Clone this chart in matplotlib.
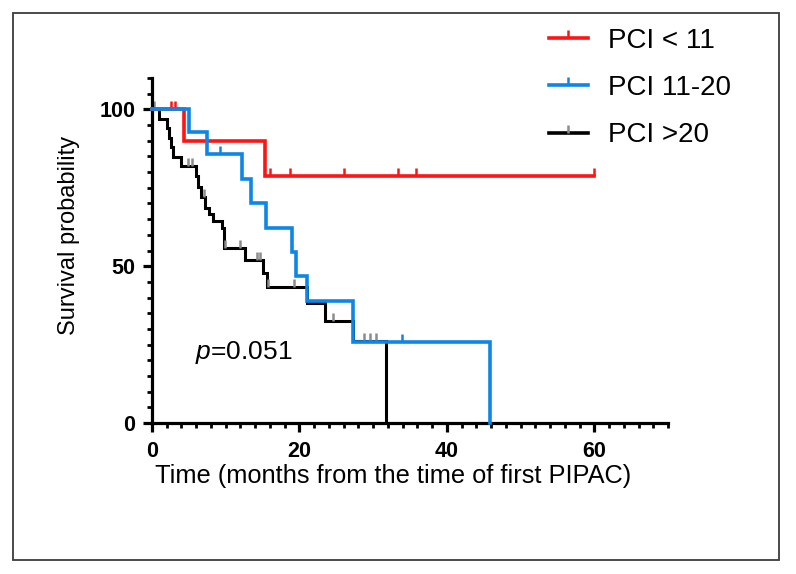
import numpy as np
import matplotlib
matplotlib.use("Agg")
import matplotlib.pyplot as plt
from matplotlib.lines import Line2D
from matplotlib.patches import Rectangle

plt.rcParams['font.family'] = ['Liberation Sans', 'DejaVu Sans']
plt.rcParams['mathtext.fontset'] = 'custom'
plt.rcParams['mathtext.it'] = 'Liberation Sans:italic'
plt.rcParams['mathtext.rm'] = 'Liberation Sans'

# ---- data ----
groups = ["PCI < 11", "PCI 11-20", "PCI >20"]
colors = ["#FF1414", "#0E86E6", "#000000"]
censor_colors = ["#FF1414", "#0E86E6", "#8C8C8C"]

red_times = [4.3, 15.3]
red_surv = [90.0, 78.75]
red_end = 60.0
red_censor = [2.6, 3.1, 16.0, 18.7, 26.0, 33.4, 35.8, 60.0]

blue_times = [5.0, 7.4, 12.2, 13.4, 15.5, 19.0, 19.6, 21.0, 27.3, 45.9]
blue_surv = [92.9, 85.7, 77.9, 70.1, 62.3, 54.5, 46.8, 39.0, 25.9, 0.0]
blue_end = 45.9
blue_censor = [9.2, 33.9]

black_times = [1.0, 2.0, 2.3, 2.6, 2.9, 4.0, 6.0, 6.3, 6.7, 7.2, 7.7, 8.3,
               9.5, 9.7, 12.6, 15.1, 15.6, 21.0, 23.5, 27.3, 31.8]
black_surv = [97.0, 93.9, 90.9, 87.9, 84.8, 81.8, 78.6, 75.4, 72.1, 68.5, 66.5, 64.3,
              62.2, 55.8, 52.1, 47.8, 43.5, 38.3, 32.4, 26.0, 0.0]
black_end = 31.8
black_censor = [0.3, 4.9, 5.4, 7.0, 9.9, 11.9, 14.2, 14.7, 15.8, 19.2, 24.6, 28.8, 29.6, 30.4]

x_major = [0, 20, 40, 60]
y_major = [0, 50, 100]

series = [
    (red_times, red_surv, red_end, red_censor),
    (blue_times, blue_surv, blue_end, blue_censor),
    (black_times, black_surv, black_end, black_censor),
]

W, H = 796, 574
fig = plt.figure(figsize=(W / 100, H / 100), dpi=100)
ax = fig.add_axes([152 / W, 1 - 423 / H, 516 / W, (423 - 78) / H])

# figure frame
fig.patches.append(Rectangle((13 / W, 1 - 560 / H), (779 - 13) / W, (560 - 13) / H,
                             transform=fig.transFigure, fill=False,
                             edgecolor="#3c3c3c", linewidth=1.3))

lws = [2.6, 2.6, 2.2]
zorders = [3, 4, 2]
handles = []
for (t, s, end, cens), col, ccol, lw, zo, name in zip(series, colors, censor_colors, lws, zorders, groups):
    xs = [0.0] + list(t)
    ys = [100.0] + list(s)
    if end > xs[-1]:
        xs.append(end)
        ys.append(ys[-1])
    ax.step(xs, ys, where='post', color=col, lw=lw, zorder=zo, clip_on=False,
            solid_joinstyle='miter')
    xs_a = np.array(xs)
    ys_a = np.array(ys)
    cy = [ys_a[np.searchsorted(xs_a, c, side='right') - 1] for c in cens]
    ax.plot(cens, cy, linestyle='none', marker=2, markersize=5.5, mew=1.8,
            color=ccol, zorder=zo + 0.5, clip_on=False)
    handles.append(Line2D([], [], color=col, lw=2.6, marker=2, markersize=6,
                          mew=1.8, markeredgecolor=ccol))

ax.set_xlim(0, 70)
ax.set_ylim(0, 110)
ax.set_xticks(x_major)
ax.set_xticks(np.arange(0, 71, 2), minor=True)
ax.set_yticks(y_major)
ax.set_yticks(np.arange(0, 111, 5), minor=True)
for sp in ['top', 'right']:
    ax.spines[sp].set_visible(False)
for sp in ['left', 'bottom']:
    ax.spines[sp].set_linewidth(2.3)
ax.tick_params(which='major', length=6.8, width=2.3, labelsize=15.5)
ax.tick_params(axis='x', which='major', pad=6)
ax.tick_params(axis='y', which='major', pad=5)
ax.tick_params(which='minor', length=3.8, width=2.0)
for lab in ax.get_xticklabels() + ax.get_yticklabels():
    lab.set_fontweight('bold')

ax.set_xlabel("Time (months from the time of first PIPAC)", fontsize=18.3)
ax.set_ylabel("Survival probability", fontsize=17)
ax.xaxis.set_label_coords((393 - 152) / 516, -(464 - 423) / 345)
ax.yaxis.set_label_coords(-(152 - 80) / 516, (423 - 235) / 345)

ax.text(5.8, 22.5, r"$\it{p}$=0.051", fontsize=19, va='center', ha='left')

fig.legend(handles, groups, loc='upper left', bbox_to_anchor=(549 / W, 1 - 28 / H),
           frameon=False, fontsize=20, handlelength=1.4, handletextpad=0.72,
           labelspacing=0.76, numpoints=1, borderpad=0, borderaxespad=0)

fig.savefig("out.png", dpi=100)
